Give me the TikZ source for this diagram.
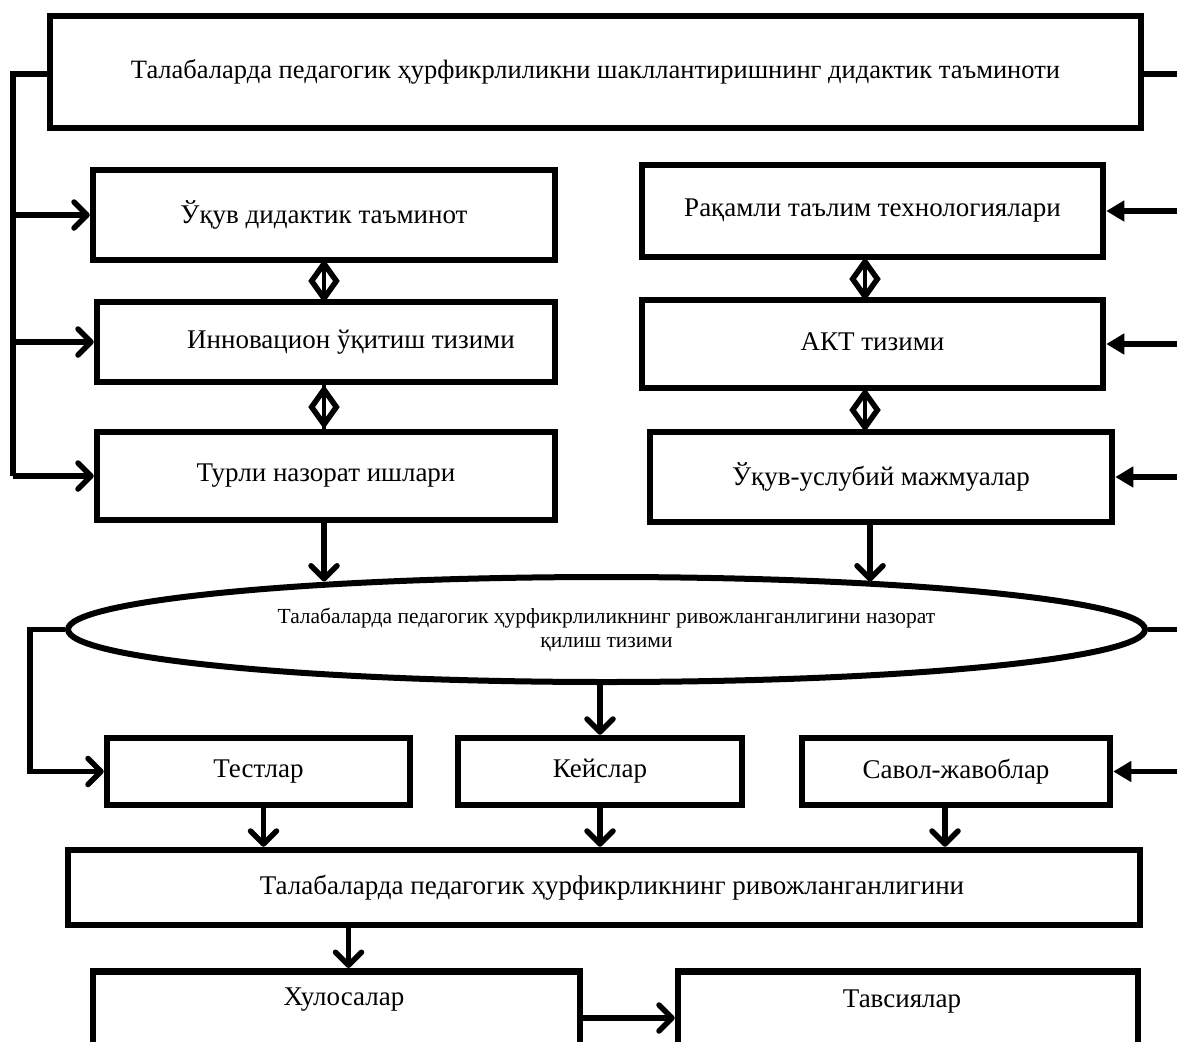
\documentclass[tikz,border=0pt]{standalone}
\usepackage{fontspec}
\setmainfont{Liberation Serif}
\usetikzlibrary{arrows.meta,shapes.geometric}
\begin{document}
\begin{tikzpicture}[x=1pt,y=-1pt,
  box/.style={draw,line width=6.5pt,rectangle,inner sep=0pt,font=\fontsize{27}{31}\selectfont},
  txt/.style={font=\fontsize{27}{31}\selectfont,inner sep=0pt},
  con/.style={line width=5.5pt},
  opa/.style={con,-{Straight Barb[length=13pt,width=26pt,line cap=round,line join=round]}},
  fla/.style={con,-{Triangle[length=18pt,width=20pt]}},
  dia/.style={draw,diamond,line width=5.5pt,inner sep=0pt,minimum width=27pt,minimum height=37pt,fill=white},
]
\useasboundingbox (0,0) rectangle (1177,1041);
\clip (0,0) rectangle (1177,1041);

% boxes
\node[box,minimum width=1091pt,minimum height=112pt] (top) at (595.5,72) {\fontsize{26.5}{30}\selectfont Талабаларда педагогик ҳурфикрлиликни шакллантиришнинг дидактик таъминоти};
\node[box,minimum width=462pt,minimum height=90pt] (b1) at (324,215) {\raisebox{4pt}{Ўқув дидактик таъминот}};
\node[box,minimum width=458pt,minimum height=80pt] (b2) at (326,342) {\hspace*{50pt}\raisebox{3pt}{Инновацион ўқитиш тизими}};
\node[box,minimum width=458pt,minimum height=88pt] (b3) at (326,476) {Турли назорат ишлари};
\node[box,minimum width=461pt,minimum height=92pt] (r1) at (872.5,211) {\raisebox{-2pt}{Рақамли таълим технологиялари}};
\node[box,minimum width=461pt,minimum height=88pt] (r2) at (872.5,344) {\raisebox{4pt}{АКТ тизими}};
\node[box,minimum width=462pt,minimum height=90pt] (r3) at (881,477) {Ўқув-услубий мажмуалар};
\node[draw,ellipse,line width=6pt,minimum width=1077pt,minimum height=105pt,inner sep=0pt,align=center,
  font=\fontsize{21.5}{24}\selectfont] (ell) at (606.5,629.5)
  {Талабаларда педагогик ҳурфикрлиликнинг ривожланганлигини назорат\\қилиш тизими};
\node[box,minimum width=303pt,minimum height=67pt] (t1) at (258.5,771.5) {Тестлар};
\node[box,minimum width=284pt,minimum height=67pt] (t2) at (600,771.5) {Кейслар};
\node[box,minimum width=308pt,minimum height=67pt] (t3) at (956,771.5) {Савол-жавоблар};
\node[box,minimum width=1072pt,minimum height=75pt] (bot) at (604,887.5) {\hspace*{16pt}\raisebox{5pt}{Талабаларда педагогик ҳурфикрликнинг ривожланганлигини}};
\node[box,minimum width=487pt,minimum height=120pt,anchor=north] (h1) at (336.5,968) {};
\node[box,minimum width=460pt,minimum height=120pt,anchor=north] (h2) at (908,968) {};
\node[txt] (h1t) at (344,1000) {Хулосалар};
\node[txt] (h2t) at (902,1002) {Тавсиялар};

% diamonds
\node[dia] (d1) at (324,281) {};
\node[dia] (d2) at (324,407) {};
\node[dia] (d3) at (865,279) {};
\node[dia] (d4) at (865,410) {};
\draw[line width=3.5pt] (b1.south -| d1) -- (b2.north -| d1);
\draw[line width=3.5pt] (b2.south -| d2) -- (b3.north -| d2);
\draw[line width=3.5pt] (r1.south -| d3) -- (r2.north -| d3);
\draw[line width=3.5pt] (r2.south -| d4) -- (r3.north -| d4);

% left bus
\coordinate (L) at (13,74);
\draw[con] (top.west |- L) -- (L) -- (L |- b3.west);
\draw[opa] (L |- b1.west) -- (b1.west);
\draw[opa] (L |- b2.west) -- (b2.west);
\draw[opa] (L |- b3.west) -- (b3.west);

% right side
\coordinate (R) at (1185,74);
\draw[con] (top.east |- R) -- (R);
\draw[fla] (R |- r1.east) -- (r1.east);
\draw[fla] (R |- r2.east) -- (r2.east);
\draw[fla] (R |- r3.east) -- (r3.east);
\draw[con] (ell.east) -- (R |- ell.east);
\draw[fla] (R |- t3.east) -- (t3.east);

% down to ellipse
\draw[opa] (b3.south -| d2) -- (ell.170 -| d2);
\draw[opa] ([xshift=-11pt]r3.south) -- ([xshift=-11pt]r3.south |- ell.10);

% ellipse to tests
\coordinate (E) at (30,0);
\draw[opa] (ell.west) -- (E |- ell.west) -- (E |- t1.west) -- (t1.west);
\draw[opa] (ell.south -| t2.north) -- (t2.north);

% tests to bottom
\draw[opa] ([xshift=5pt]t1.south) -- ([xshift=5pt]t1.south |- bot.north);
\draw[opa] (t2.south) -- (t2.south |- bot.north);
\draw[opa] ([xshift=-11pt]t3.south) -- ([xshift=-11pt]t3.south |- bot.north);

% bottom to conclusions
\draw[opa] ([xshift=12pt]bot.south -| h1.north) -- ([xshift=12pt]h1.north);
\path (h1t) ++(0,18) coordinate (hh);
\draw[opa] (h1.east |- hh) -- (h2.west |- hh);
\end{tikzpicture}
\end{document}
